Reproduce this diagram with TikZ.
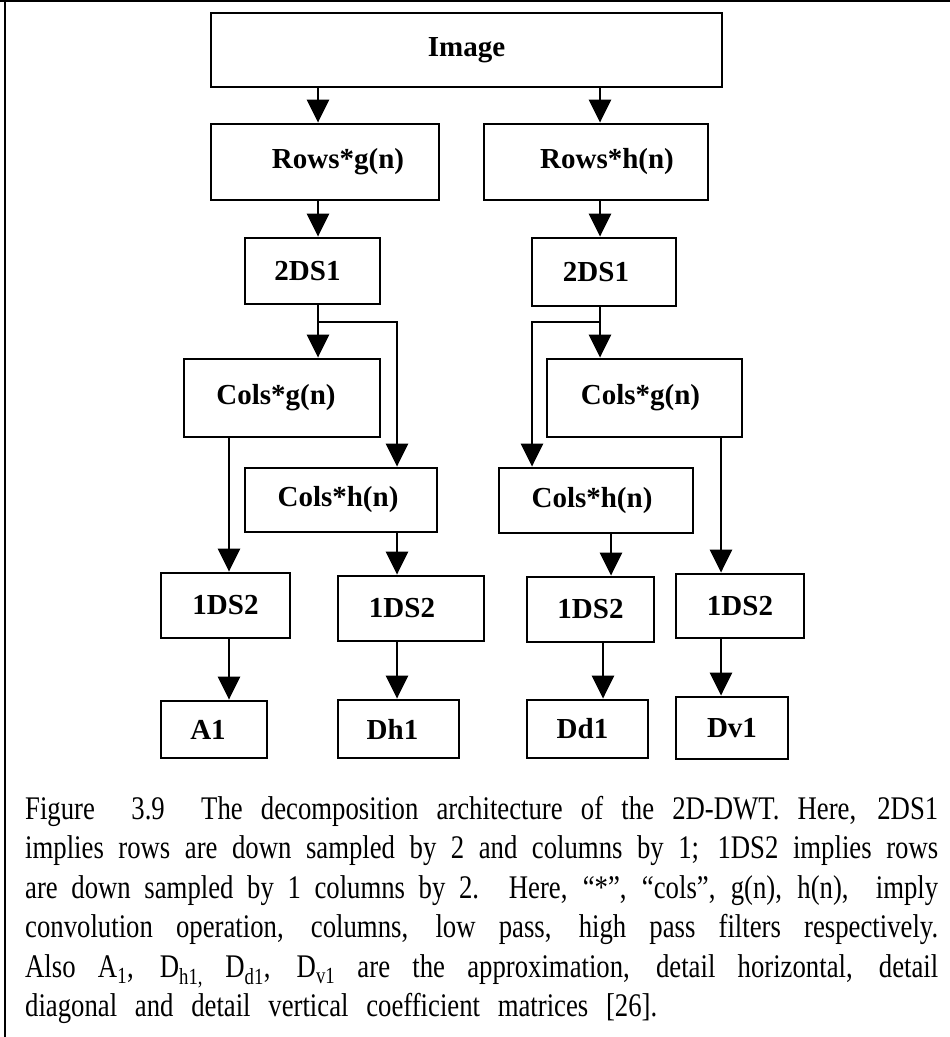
\documentclass[tikz,border=0pt]{standalone}
\usepackage{fontspec}
\setmainfont{Liberation Serif}
\newfontfamily\capfont{Liberation Serif}[FakeStretch=0.81]
\usetikzlibrary{arrows.meta}
% shift a label horizontally inside its box
\newcommand\offtext[2]{\hspace*{#1}#2\hspace*{-#1}}
\begin{document}
\begin{tikzpicture}[x=1pt,y=-1pt,
  box/.style={draw, line width=2.8pt, inner sep=0pt,
    font=\fontsize{29}{34}\selectfont\bfseries},
  arr/.style={line width=2.8pt, -{Triangle[width=22pt,length=23pt]}},
  capline/.style={anchor=base west, inner sep=0pt,
    font=\capfont\fontsize{33}{39}\selectfont}]
\useasboundingbox (0,0) rectangle (950,1037);

% frame
\draw[line width=2pt] (0,1) -- (950,1);
\draw[line width=2pt] (5,0) -- (5,1037);

% filter stages
\node[box, minimum width=511, minimum height=74] (img) at (466.5,50) {Image};
\node[box, minimum width=228, minimum height=76] (rg) at (325,162) {\offtext{13pt}{Rows*g(n)}};
\node[box, minimum width=224, minimum height=76] (rh) at (596,162) {\offtext{11pt}{Rows*h(n)}};
\node[box, minimum width=135, minimum height=66] (dsL) at (312.5,271) {\offtext{-5pt}{2DS1}};
\node[box, minimum width=144, minimum height=68] (dsR) at (604,272) {\offtext{-8pt}{2DS1}};
\node[box, minimum width=196, minimum height=78] (cgL) at (282,398) {\offtext{-6pt}{\raisebox{5pt}{Cols*g(n)}}};
\node[box, minimum width=192, minimum height=64] (chL) at (341,500) {\offtext{-3pt}{Cols*h(n)}};
\node[box, minimum width=195, minimum height=78] (cgR) at (644.5,398) {\offtext{-4pt}{\raisebox{3pt}{Cols*g(n)}}};
\node[box, minimum width=194, minimum height=65] (chR) at (596,500.5) {\offtext{-4pt}{Cols*h(n)}};

% down-samplers
\node[box, minimum width=129, minimum height=65] (d1) at (225.5,605.5) {1DS2};
\node[box, minimum width=146, minimum height=65] (d2) at (411,608.5) {\offtext{-9pt}{1DS2}};
\node[box, minimum width=127, minimum height=65] (d3) at (590.5,609.5) {1DS2};
\node[box, minimum width=128, minimum height=64] (d4) at (740,606) {1DS2};

% output sub-bands
\node[box, minimum width=106, minimum height=57] (a1) at (214,729.5) {\offtext{-6pt}{A1}};
\node[box, minimum width=121, minimum height=58] (dh) at (398.5,729) {\offtext{-6pt}{Dh1}};
\node[box, minimum width=121, minimum height=58] (dd) at (587.5,729) {\offtext{-5pt}{Dd1}};
\node[box, minimum width=112, minimum height=62] (dv) at (732,728) {Dv1};

% connector columns
\coordinate (xa) at (318,0);
\coordinate (xb) at (600,0);
\coordinate (xc) at (229,0);
\coordinate (xd) at (397,0);
\coordinate (xe) at (611,0);
\coordinate (xf) at (721,0);
\coordinate (xg) at (603,0);
\coordinate (jL) at (397,322);
\coordinate (jR) at (532,322);

\draw[arr] (img.south -| xa) -- (rg.north -| xa);
\draw[arr] (img.south -| xb) -- (rh.north -| xb);
\draw[arr] (rg.south -| xa) -- (dsL.north -| xa);
\draw[arr] (rh.south -| xb) -- (dsR.north -| xb);

\draw[arr] (dsL.south -| xa) -- (cgL.north -| xa);
\draw[arr] (dsL.south -| xa) |- (jL) -- (chL.north -| jL);
\draw[arr] (dsR.south -| xb) -- (cgR.north -| xb);
\draw[arr] (dsR.south -| xb) |- (jR) -- (chR.north -| jR);

\draw[arr] (cgL.south -| xc) -- (d1.north -| xc);
\draw[arr] (chL.south -| xd) -- (d2.north -| xd);
\draw[arr] (chR.south -| xe) -- (d3.north -| xe);
\draw[arr] (cgR.south -| xf) -- (d4.north -| xf);

\draw[arr] (d1.south -| xc) -- (a1.north -| xc);
\draw[arr] (d2.south -| xd) -- (dh.north -| xd);
\draw[arr] (d3.south -| xg) -- (dd.north -| xg);
\draw[arr] (d4.south -| xf) -- (dv.north -| xf);

% caption
\node[capline] (cap1) at (25,819) {\makebox[913pt][s]{Figure\ \ 3.9\ \ The decomposition architecture of the 2D-DWT. Here, 2DS1}};
\node[capline] (cap2) at (25,858.5) {\makebox[913pt][s]{implies rows are down sampled by 2 and columns by 1; 1DS2 implies rows}};
\node[capline] (cap3) at (25,898) {\makebox[913pt][s]{are down sampled by 1 columns by 2. Here, “*”, “cols”, g(n), h(n),\ \ imply}};
\node[capline] (cap4) at (25,937.5) {\makebox[913pt][s]{convolution operation, columns, low pass, high pass filters respectively.}};
\node[capline] (cap5) at (25,977) {\makebox[913pt][s]{Also A\textsubscript{1}, D\textsubscript{h1,} D\textsubscript{d1}, D\textsubscript{v1} are the approximation, detail horizontal, detail}};
\node[capline] (cap6) at (25,1016) {\makebox[632pt][s]{diagonal and detail vertical coefficient matrices [26].}};
\end{tikzpicture}
\end{document}
